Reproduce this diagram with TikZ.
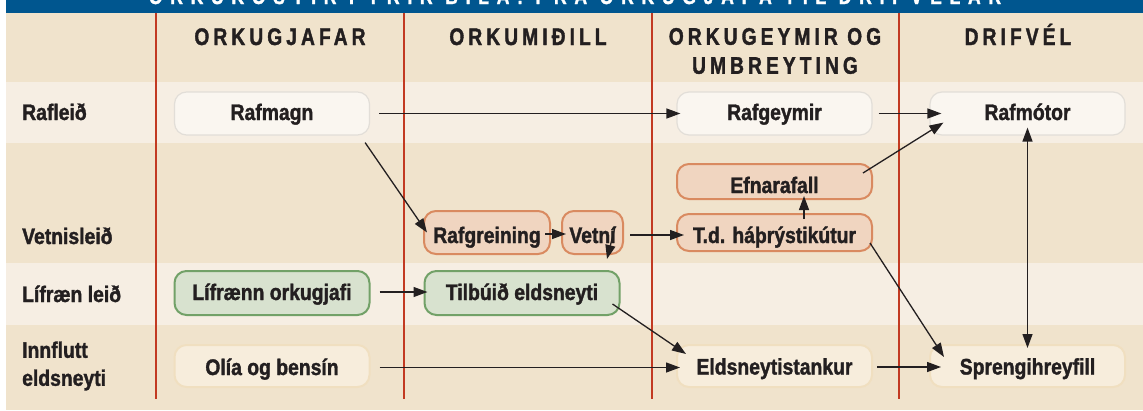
\documentclass[tikz,border=0pt]{standalone}
\usepackage{fontspec}
\setmainfont{Liberation Sans}[FakeStretch=0.86,BoldFont={Liberation Sans Bold},BoldFeatures={FakeBold=1.5}]
\newfontfamily\headfont{Liberation Sans}[FakeStretch=0.8,LetterSpace=17,BoldFont={Liberation Sans Bold},BoldFeatures={FakeBold=1.5}]
\newfontfamily\titlefont{Liberation Sans}[FakeStretch=0.8,LetterSpace=35,BoldFont={Liberation Sans Bold},BoldFeatures={FakeBold=1.5}]
\usetikzlibrary{arrows.meta}
\definecolor{ink}{HTML}{231F20}
\definecolor{barblue}{HTML}{00568F}
\definecolor{sand}{HTML}{F0E3CC}
\definecolor{sandlight}{HTML}{F6EEE3}
\definecolor{rule}{HTML}{C23A22}
\definecolor{elfill}{HTML}{FAF6F0}
\definecolor{eldraw}{HTML}{E2DED8}
\definecolor{hfill}{HTML}{F0D5C0}
\definecolor{hdraw}{HTML}{D98A60}
\definecolor{bfill}{HTML}{D8E2CF}
\definecolor{bdraw}{HTML}{72A168}
\definecolor{ofill}{HTML}{F7EDDC}
\definecolor{odraw}{HTML}{F0DFC0}

\begin{document}
\begin{tikzpicture}[x=1pt,y=-1pt,
            every node/.style={inner sep=0pt,text=ink,font=\bfseries\fontsize{22.5}{28}\selectfont},
            pathbox/.style={draw,rounded corners=12pt,line width=2pt,minimum width=195pt,minimum height=43pt,text depth=0pt},
            elbox/.style={pathbox,fill=elfill,draw=eldraw,line width=1.2pt,text height=13pt},
            hbox/.style={pathbox,fill=hfill,draw=hdraw,text height=21pt},
            bbox/.style={pathbox,fill=bfill,draw=bdraw,text height=14pt},
            obox/.style={pathbox,fill=ofill,draw=odraw,text height=17pt},
            colhead/.style={font=\headfont\bfseries\fontsize{24}{29}\selectfont,align=center}]
            \useasboundingbox (0,0) rectangle (1143,410);
            \fill[sand] (6,13) rectangle (1143,410);
            \foreach \a/\b in {82/143,263/325}
                \fill[sandlight] (6,\a) rectangle (1143,\b);
            \fill[barblue] (6,0) rectangle (1143,13);
            \begin{scope}
                \clip (6,0) rectangle (1143,13);
                \node[anchor=base,text=white,font=\titlefont\bfseries\fontsize{22}{26}\selectfont] (title) at (575,4)
                    {ORKUKOSTIR FYRIR BÍLA: FRÁ ORKUGJAFA TIL DRIFVÉLAR};
            \end{scope}
            \foreach \x in {156,404,652,899}
                \draw[rule,line width=2pt] (\x,13) -- (\x,399);

            \node[colhead,anchor=base](orkugjafar) at (280,45) {ORKUGJAFAR};
            \node[colhead,anchor=base](orkumidill) at (528,45) {ORKUMIÐILL};
            \node[colhead](orkugeymir) at (775,51) {ORKUGEYMIR OG\\UMBREYTING};
            \node[colhead,anchor=base](drifvel) at (1018,45) {DRIFVÉL};

            \node[anchor=base west](rafleid) at (22,120) {Rafleið};
            \node[anchor=base west](vetnisleid) at (22,244) {Vetnisleið};
            \node[anchor=base west](lifraenleid) at (22,302) {Lífræn leið};
            \node[anchor=west,align=left](innflutt) at (22,366) {Innflutt\\eldsneyti};

            \node[elbox](rafmagn) at (272,113.5) {Rafmagn};
            \node[elbox](rafgeymir) at (774.5,113.5) {Rafgeymir};
            \node[elbox](rafmotor) at (1027.5,113.5) {Rafmótor};
            \node[hbox,minimum height=35pt,text height=23pt](efnarafall) at (774.5,181.5) {Efnarafall};
            \node[hbox,minimum height=37pt](kutur) at (774.5,232.5) {T.d. háþrýstikútur};
            \node[hbox,minimum width=126pt](rafgreining) at (487,232.5) {Rafgreining};
            \node[hbox,minimum width=61pt](vetni) at (592.5,232.5) {Vetní};
            \node[bbox,minimum height=44pt](lifraenn) at (272,293) {Lífrænn orkugjafi};
            \node[bbox,minimum height=44pt](tilbuid) at (522,293) {Tilbúið eldsneyti};
            \node[obox,minimum height=42pt,text height=18pt](olia) at (272,366) {Olía og bensín};
            \node[obox,minimum height=42pt](tankur) at (774.5,366) {Eldsneytistankur};
            \node[obox,minimum height=42pt](hreyfill) at (1027.5,366) {Sprengihreyfill};

            \begin{scope}[-{Triangle[length=14pt,width=10pt]}, line width=1.3pt, draw=ink]
                \draw([xshift=9pt]rafmagn.east)--([xshift=4pt]rafgeymir.west);
                \draw([xshift=6pt]rafgeymir.east)--([xshift=12pt]rafmotor.west);
                \draw([xshift=-5pt,yshift=-7pt]rafmagn.south east)--([xshift=4pt]rafgreining.west);
                \draw([xshift=-6pt,yshift=-1.5pt]rafgreining.east)--([xshift=5pt,yshift=-1.5pt]vetni.west);
                \draw([xshift=6pt,yshift=-2.5pt]vetni.east)--([xshift=8pt,yshift=-2.5pt]kutur.west);
                \draw([xshift=22.5pt,yshift=5.5pt]vetni.center)--([xshift=85pt,yshift=11pt]tilbuid.north);
                \draw([xshift=9pt,yshift=1pt]lifraenn.east)--([xshift=4pt,yshift=1pt]tilbuid.west);
                \draw([xshift=-8pt,yshift=-11pt]tilbuid.east)--([xshift=10pt,yshift=-10pt]tankur.north west);
                \draw([xshift=9pt,yshift=-1.5pt]olia.east)--([xshift=4pt,yshift=-1.5pt]tankur.west);
                \draw([xshift=4pt,yshift=-1pt]tankur.east)--([xshift=12pt,yshift=-1pt]hreyfill.west);
                \draw([xshift=29.5pt,yshift=-6pt]kutur.north)--([xshift=29.5pt,yshift=4pt]efnarafall.south);
                \draw([xshift=-10pt,yshift=8.5pt]efnarafall.east)--([xshift=14pt,yshift=13pt]rafmotor.south west);
                \draw([xshift=-3pt,yshift=-10.5pt]kutur.east)--([xshift=15pt,yshift=-13pt]hreyfill.north west);
                \draw[{Triangle[length=14pt,width=10pt]}-{Triangle[length=14pt,width=10pt]}]
                    ([yshift=8pt]rafmotor.south)--([yshift=-4pt]hreyfill.north);
            \end{scope}
        \end{tikzpicture}
\end{document}
